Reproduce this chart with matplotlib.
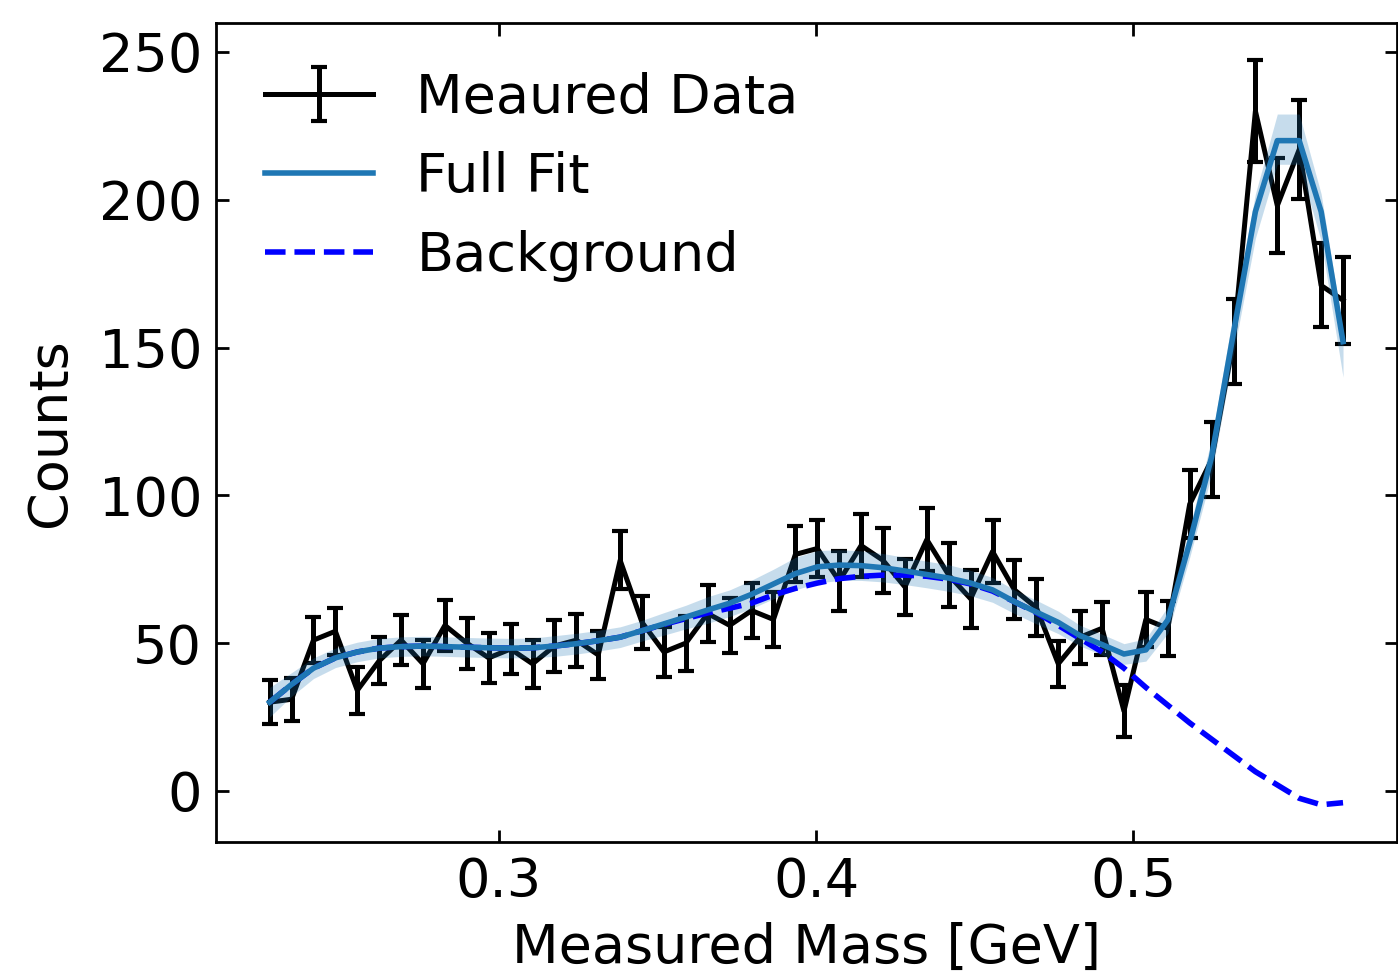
import matplotlib
matplotlib.use('Agg')
import matplotlib.pyplot as plt
import numpy as np

# ---- data ----
mass = [0.2279, 0.2348, 0.2417, 0.2486, 0.2555, 0.2624, 0.2693, 0.2762, 0.2831, 0.2900,
        0.2969, 0.3038, 0.3107, 0.3176, 0.3245, 0.3314, 0.3383, 0.3452, 0.3521, 0.3590,
        0.3659, 0.3728, 0.3797, 0.3866, 0.3935, 0.4004, 0.4073, 0.4142, 0.4211, 0.4280,
        0.4349, 0.4418, 0.4487, 0.4556, 0.4625, 0.4694, 0.4763, 0.4832, 0.4901, 0.4970,
        0.5039, 0.5108, 0.5177, 0.5246, 0.5315, 0.5384, 0.5453, 0.5522, 0.5591, 0.5660]

counts = [30, 31, 51, 54, 34, 44, 51, 43, 56, 50,
          45, 48, 43, 49, 51, 46, 78, 57, 47, 50,
          60, 56, 61, 58, 80, 82, 71, 83, 78, 69,
          85, 73, 65, 81, 68, 62, 43, 52, 55, 27,
          58, 55, 97, 112, 152, 230, 198, 217, 171, 166]

count_err = [7.5, 7.3, 7.8, 8.0, 8.0, 8.0, 8.5, 8.1, 8.6, 8.6,
             8.5, 8.5, 8.1, 8.8, 9.0, 8.0, 9.8, 9.0, 8.5, 9.3,
             9.5, 9.3, 9.3, 9.3, 9.5, 9.6, 10.3, 10.8, 11.0, 9.6,
             10.7, 10.7, 9.8, 10.7, 10.0, 9.6, 7.8, 9.0, 9.0, 8.8,
             9.3, 9.3, 11.5, 12.7, 14.4, 17.3, 16.0, 16.7, 14.2, 14.7]

full_fit = [30, 36, 41.5, 45, 47, 48.3, 48.8, 49, 48.8, 48.6,
            48.4, 48.3, 48.4, 49, 49.8, 50.8, 52, 54.2, 56.5, 58.8,
            61.2, 63.5, 66.5, 70, 73.5, 75.8, 76.4, 76.2, 75.5, 74.4,
            73.2, 72, 70.3, 68, 64, 60.5, 57, 52.5, 49.5, 46.3,
            47.7, 57.8, 84, 113, 155, 196, 220, 220, 196, 152]

background = [30, 36, 41.5, 45, 47, 48.3, 48.8, 49, 48.8, 48.6,
              48.4, 48.3, 48.4, 49, 49.8, 50.8, 52, 54.2, 56.3, 58.3,
              60.2, 61.8, 63.5, 66.3, 68.5, 70.3, 71.8, 72.6, 73, 73,
              72.6, 71.6, 70, 67.6, 64, 60.3, 56, 51.5, 47, 41.5,
              35, 29, 23, 17.5, 12, 6.5, 2, -2.5, -4.7, -4]

band_hi = [5, 4, 3.5, 3.3, 3.3, 3.3, 3.3, 3.3, 3.3, 3.3,
           3.3, 3.3, 3.3, 3.5, 3.5, 3.5, 3.5, 3.5, 3.8, 4,
           4.5, 4.5, 4.8, 5, 5.5, 5.5, 5.2, 5, 4.8, 4.6,
           4.5, 4.5, 4.3, 4.2, 4, 4, 3.8, 3.5, 3.5, 3.5,
           3.8, 4.5, 5, 6, 7, 6, 9, 9, 6, 4]

band_lo = [5, 4, 3.5, 3.3, 3.3, 3.3, 3.3, 3.3, 3.3, 3.3,
           3.3, 3.3, 3.3, 3.5, 3.5, 3.5, 3.5, 3.5, 3.8, 4,
           4.5, 4.5, 4.8, 5, 5.5, 5.5, 5.2, 5, 4.8, 4.6,
           4.5, 4.5, 4.3, 4.2, 4, 4, 3.8, 3.5, 3.5, 3.5,
           3.8, 4.5, 5, 6, 7, 9, 8, 8, 10, 12]

legend_labels = ['Meaured Data', 'Full Fit', 'Background']
x_ticks = [0.3, 0.4, 0.5]
y_ticks = [0, 50, 100, 150, 200, 250]

# ---- plot ----
FS = 39
fig = plt.figure(figsize=(13.98, 9.73), dpi=100)
ax = fig.add_axes([216/1398, (973-842)/973, (1397-216)/1398, (842-23)/973])

fit_arr = np.array(full_fit)
eb = ax.errorbar(mass, counts, yerr=count_err, color='black', lw=3.6,
                 capsize=6, capthick=3.0, zorder=1)
ax.fill_between(mass, fit_arr - np.array(band_lo), fit_arr + np.array(band_hi),
                color='#1f77b4', alpha=0.25, lw=0, zorder=2)
bg_line, = ax.plot(mass, background, '--', color='blue', lw=4.0, zorder=3)
fit_line, = ax.plot(mass, full_fit, color='#1f77b4', lw=4.0, zorder=4)

ax.legend([eb, fit_line, bg_line], legend_labels, loc='upper left',
          frameon=False, fontsize=FS)

ax.set_xlim(0.2110, 0.5830)
ax.set_ylim(-17.3, 259.8)
ax.set_xticks(x_ticks)
ax.set_xticklabels([f'{t:.1f}' for t in x_ticks])
ax.set_yticks(y_ticks)
ax.tick_params(direction='in', top=True, right=True, length=9, width=2,
               labelsize=FS, pad=10)
for s in ax.spines.values():
    s.set_linewidth(2)
ax.set_xlabel('Measured Mass [GeV]', fontsize=FS, labelpad=10)
ax.set_ylabel('Counts', fontsize=FS, labelpad=16)

fig.savefig('out.png', dpi=100)
